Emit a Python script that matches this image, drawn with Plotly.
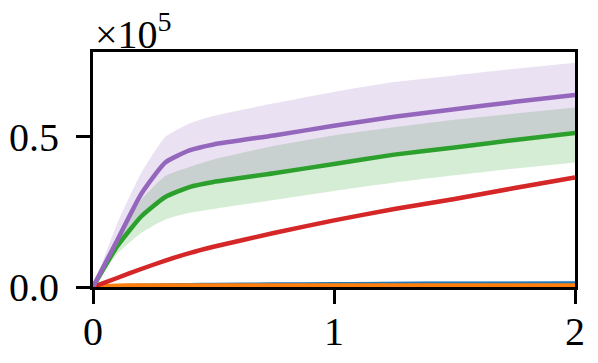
import plotly.graph_objects as go

# sample positions along the x axis
x_vals = [0.0, 0.1, 0.2, 0.3, 0.4, 0.5, 0.75, 1.0, 1.25, 1.5, 1.75, 2.0]

# values in units of 1e5
blue_mean = [0.0, 0.002, 0.004, 0.005, 0.006, 0.007, 0.008, 0.009, 0.010, 0.011, 0.011, 0.012]
blue_upper = [0.0, 0.004, 0.007, 0.009, 0.011, 0.012, 0.014, 0.016, 0.018, 0.019, 0.020, 0.021]
blue_lower = [0.0, 0.0, 0.001, 0.002, 0.002, 0.003, 0.003, 0.003, 0.004, 0.004, 0.004, 0.005]

orange_mean = [0.0, 0.004, 0.005, 0.005, 0.005, 0.005, 0.005, 0.005, 0.005, 0.005, 0.005, 0.005]

red_mean = [0.0, 0.03, 0.06, 0.088, 0.113, 0.134, 0.18, 0.222, 0.26, 0.293, 0.33, 0.365]
red_upper = [0.0, 0.032, 0.063, 0.092, 0.117, 0.139, 0.186, 0.228, 0.266, 0.300, 0.337, 0.372]
red_lower = [0.0, 0.028, 0.057, 0.084, 0.109, 0.129, 0.174, 0.216, 0.254, 0.286, 0.323, 0.358]

green_mean = [0.0, 0.135, 0.235, 0.30, 0.333, 0.35, 0.379, 0.41, 0.441, 0.465, 0.49, 0.513]
green_upper = [0.0, 0.15, 0.29, 0.37, 0.40, 0.425, 0.47, 0.505, 0.532, 0.557, 0.578, 0.598]
green_lower = [0.0, 0.11, 0.18, 0.225, 0.247, 0.26, 0.29, 0.32, 0.348, 0.372, 0.395, 0.415]

purple_mean = [0.0, 0.155, 0.31, 0.415, 0.455, 0.475, 0.505, 0.537, 0.567, 0.592, 0.617, 0.64]
purple_upper = [0.0, 0.21, 0.38, 0.50, 0.545, 0.57, 0.612, 0.65, 0.683, 0.705, 0.727, 0.747]
purple_lower = [0.0, 0.14, 0.24, 0.305, 0.335, 0.35, 0.38, 0.41, 0.44, 0.465, 0.49, 0.512]

x_ticks = [0, 1, 2]
y_ticks = [0.0, 0.5]

SERIES = [
    ("blue", "#1f77b4", "rgba(31,119,180,0.2)", blue_mean, blue_lower, blue_upper),
    ("orange", "#ff7f0e", None, orange_mean, None, None),
    ("green", "#2ca02c", "rgba(44,160,44,0.2)", green_mean, green_lower, green_upper),
    ("red", "#d62728", "rgba(214,39,40,0.2)", red_mean, red_lower, red_upper),
    ("purple", "#9467bd", "rgba(148,103,189,0.2)", purple_mean, purple_lower, purple_upper),
]

FONT = "Liberation Serif"
SMOOTH = dict(shape="spline", smoothing=0.5)


def build_figure() -> go.Figure:
    """Mean curves with shaded spread, matplotlib-like styling."""
    fig = go.Figure()

    # shaded bands first so every line sits on top
    for name, _, fill, _, lower, upper in SERIES:
        if fill is None:
            continue
        fig.add_trace(go.Scatter(
            x=x_vals, y=upper, mode="lines", line=dict(width=0, **SMOOTH),
            showlegend=False, hoverinfo="skip"
        ))
        fig.add_trace(go.Scatter(
            x=x_vals, y=lower, mode="lines", line=dict(width=0, **SMOOTH),
            fill="tonexty", fillcolor=fill, showlegend=False, hoverinfo="skip"
        ))

    for name, color, _, mean, _, _ in SERIES:
        fig.add_trace(go.Scatter(
            x=x_vals, y=mean, mode="lines", name=name,
            line=dict(color=color, width=4.5, **SMOOTH), showlegend=False
        ))

    axis_style = dict(
        showline=True, linecolor="black", linewidth=3, mirror=True,
        ticks="outside", ticklen=14, tickwidth=3, tickcolor="black",
        showgrid=False, zeroline=False, automargin=False,
        tickfont=dict(family=FONT, size=40, color="black"),
    )

    fig.update_xaxes(range=[0, 2], tickvals=x_ticks, ticklabelstandoff=-7, **axis_style)
    fig.update_yaxes(range=[0, 0.783], tickvals=y_ticks, tickformat=".1f",
                     ticklabelstandoff=9, **axis_style)

    fig.add_annotation(
        text="×10<sup>5</sup>", xref="paper", yref="paper", x=0, y=1,
        xanchor="left", yanchor="bottom", yshift=-7, showarrow=False,
        font=dict(family=FONT, size=40, color="black")
    )

    # the page body adds an 8px margin, so the figure is sized to fit inside it
    fig.update_layout(
        width=590, height=355,
        margin=dict(l=85, r=23, t=44, b=76),
        paper_bgcolor="white", plot_bgcolor="white",
    )
    return fig


fig = build_figure()
fig.write_html("out.html")
